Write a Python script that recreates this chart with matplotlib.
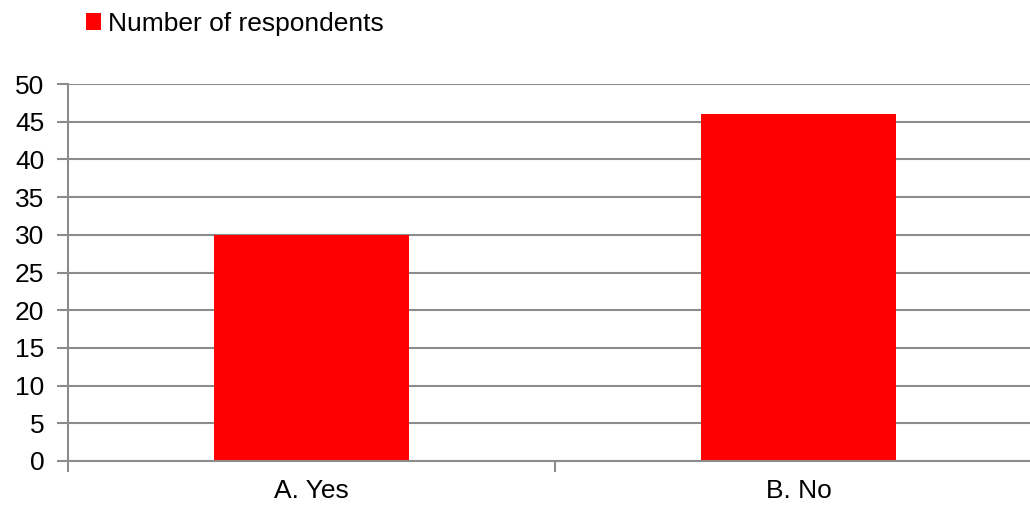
import matplotlib.pyplot as plt
from matplotlib.ticker import FixedLocator

plt.rcParams['font.family'] = ['Liberation Sans', 'DejaVu Sans']

categories = ['A. Yes', 'B. No']
respondents = [30, 46]
yticks = list(range(0, 51, 5))

fig = plt.figure(figsize=(10.3, 5.05), dpi=100)
# plot area runs past the right edge of the image, as in the original
ax = fig.add_axes([68/1030, 44/505, 974/1030, 377/505])

x = range(len(categories))
bars = ax.bar(x, respondents, width=0.4, color='#ff0000', zorder=3,
              label='Number of respondents')

ax.set_xlim(-0.5, 1.5)
ax.set_ylim(0, 50)
ax.set_yticks(yticks)
ax.set_xticks(list(x))
ax.set_xticklabels(categories)
ax.xaxis.set_minor_locator(FixedLocator([-0.5, 0.5, 1.5]))

grid_col = '#8c8c8c'
ax.grid(axis='y', color=grid_col, linewidth=1.5, zorder=0)
for s in ['top', 'right']:
    ax.spines[s].set_visible(False)
ax.spines['left'].set_color(grid_col)
ax.spines['left'].set_linewidth(1.5)
ax.spines['bottom'].set_color(grid_col)
ax.spines['bottom'].set_linewidth(1.5)
ax.spines['bottom'].set_zorder(4)

fs = 19
ax.tick_params(axis='y', length=8, width=1.5, color=grid_col, pad=9,
               labelsize=fs)
ax.tick_params(axis='x', which='major', length=0, pad=13, labelsize=fs)
ax.tick_params(axis='x', which='minor', length=8, width=1.5, color=grid_col)

fig.legend(handles=[bars], loc='upper left', bbox_to_anchor=(75/1030, 1 - 1/505),
           frameon=False, fontsize=fs, handlelength=0.6, handleheight=0.6,
           handletextpad=0.25, borderaxespad=0)

fig.savefig('out.png', dpi=100)
